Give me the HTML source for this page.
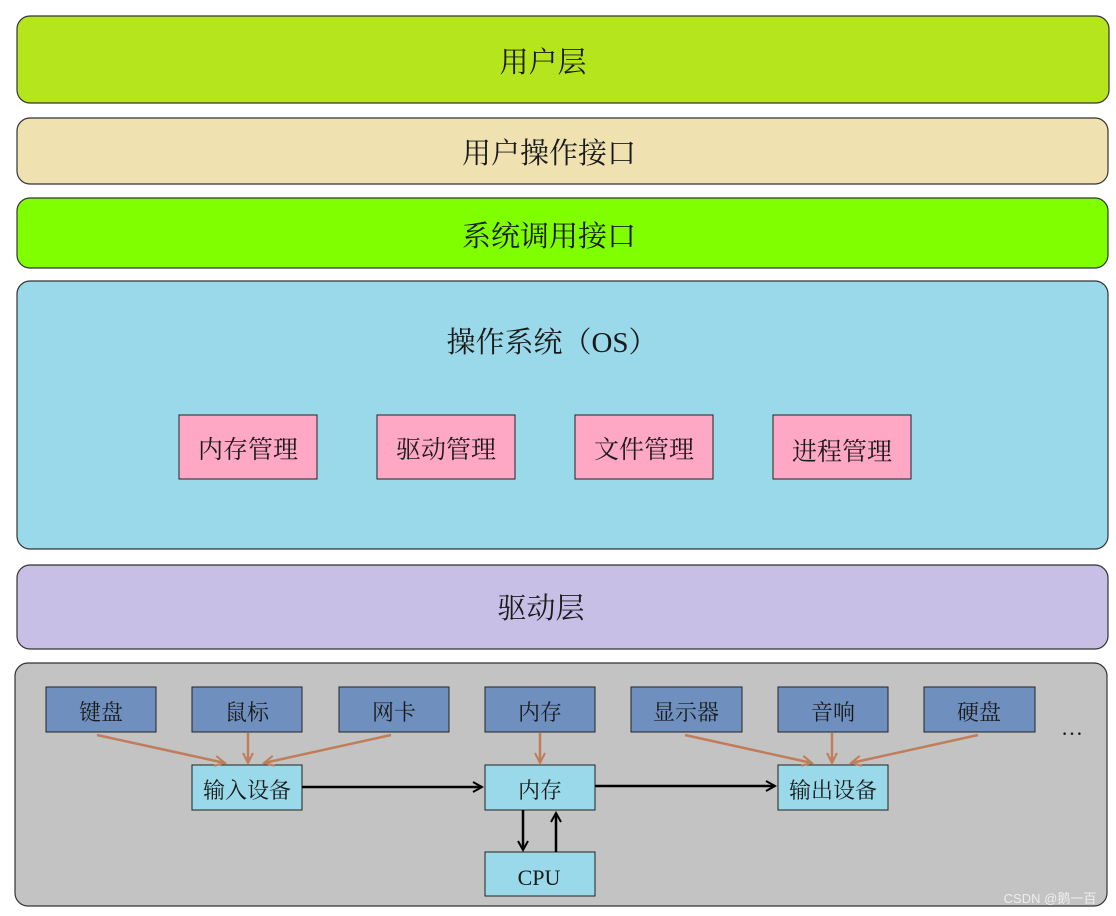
<!DOCTYPE html>
<html><head><meta charset="utf-8"><style>
html,body{margin:0;padding:0;background:#fff}
svg{display:block}
text{font-family:"Liberation Serif","Noto Serif CJK SC",serif;fill:#1a1a1a}
</style></head><body>
<svg width="1116" height="916" viewBox="0 0 1116 916" xmlns="http://www.w3.org/2000/svg">
<defs>
<marker id="ab" markerWidth="12" markerHeight="12" refX="10" refY="6" orient="auto" markerUnits="userSpaceOnUse"><path d="M1,1 L10,6 L1,11" fill="none" stroke="#000" stroke-width="2"/></marker>
<marker id="ao" markerWidth="14" markerHeight="12" refX="11" refY="6" orient="auto" markerUnits="userSpaceOnUse"><path d="M1,1 L11,6 L1,11" fill="none" stroke="#c07d5a" stroke-width="2"/></marker>
</defs>
<g stroke="#333" stroke-width="1.2">
<rect x="17" y="16" width="1092" height="87" rx="13" fill="#b5e61d"/>
<rect x="17" y="118" width="1091" height="66" rx="13" fill="#efe2b0"/>
<rect x="17" y="198" width="1091" height="70" rx="13" fill="#80ff00"/>
<rect x="17" y="281" width="1091" height="268" rx="13" fill="#99d9ea"/>
<rect x="17" y="565" width="1091" height="84" rx="13" fill="#c8bfe7"/>
<rect x="15" y="663" width="1092" height="243" rx="13" fill="#c3c3c3"/>
</g>
<g font-size="29" text-anchor="middle">
<text x="543" y="72">用户层</text>
<text x="549" y="163">用户操作接口</text>
<text x="549" y="246">系统调用接口</text>
<text x="552" y="352">操作系统（OS）</text>
<text x="541" y="618">驱动层</text>
</g>
<g stroke="#222" stroke-width="1" fill="#ffa8c6">
<rect x="179" y="415" width="138" height="64"/>
<rect x="377" y="415" width="138" height="64"/>
<rect x="575" y="415" width="138" height="64"/>
<rect x="773" y="415" width="138" height="64"/>
</g>
<g font-size="25" text-anchor="middle">
<text x="248" y="458">内存管理</text>
<text x="446" y="458">驱动管理</text>
<text x="644" y="458">文件管理</text>
<text x="842" y="460">进程管理</text>
</g>
<g stroke="#222" stroke-width="1" fill="#6f90bf">
<rect x="46" y="687" width="110" height="45"/>
<rect x="192" y="687" width="110" height="45"/>
<rect x="339" y="687" width="110" height="45"/>
<rect x="485" y="687" width="110" height="45"/>
<rect x="631" y="687" width="111" height="45"/>
<rect x="778" y="687" width="110" height="45"/>
<rect x="924" y="687" width="111" height="45"/>
</g>
<g stroke="#222" stroke-width="1" fill="#99d9ea">
<rect x="192" y="765" width="110" height="45"/>
<rect x="485" y="765" width="110" height="45"/>
<rect x="778" y="765" width="110" height="45"/>
<rect x="485" y="852" width="110" height="44"/>
</g>
<g font-size="22" text-anchor="middle">
<text x="101" y="720">键盘</text>
<text x="247" y="720">鼠标</text>
<text x="394" y="720">网卡</text>
<text x="540" y="720">内存</text>
<text x="686" y="720">显示器</text>
<text x="833" y="720">音响</text>
<text x="979" y="720">硬盘</text>
<text x="247" y="798">输入设备</text>
<text x="540" y="798">内存</text>
<text x="833" y="798">输出设备</text>
<text x="539" y="885">CPU</text>
<text x="1072" y="735">…</text>
</g>
<g stroke="#c07d5a" stroke-width="2.5" fill="none" marker-end="url(#ao)">
<line x1="97" y1="735" x2="225" y2="763"/>
<line x1="248" y1="733" x2="248" y2="763"/>
<line x1="391" y1="735" x2="264" y2="763"/>
<line x1="540" y1="733" x2="540" y2="763"/>
<line x1="685" y1="735" x2="812" y2="763"/>
<line x1="832" y1="733" x2="832" y2="763"/>
<line x1="978" y1="735" x2="851" y2="763"/>
</g>
<g stroke="#000" stroke-width="2.5" fill="none" marker-end="url(#ab)">
<line x1="302" y1="787" x2="482" y2="787"/>
<line x1="595" y1="786" x2="775" y2="786"/>
<line x1="523" y1="810" x2="523" y2="850"/>
<line x1="556" y1="852" x2="556" y2="813"/>
</g>
<text x="1050" y="903" font-size="13" text-anchor="middle" style="fill:#eee;font-family:'Liberation Sans','Noto Sans CJK SC',sans-serif">CSDN @鹅一百</text>
</svg>
</body></html>
